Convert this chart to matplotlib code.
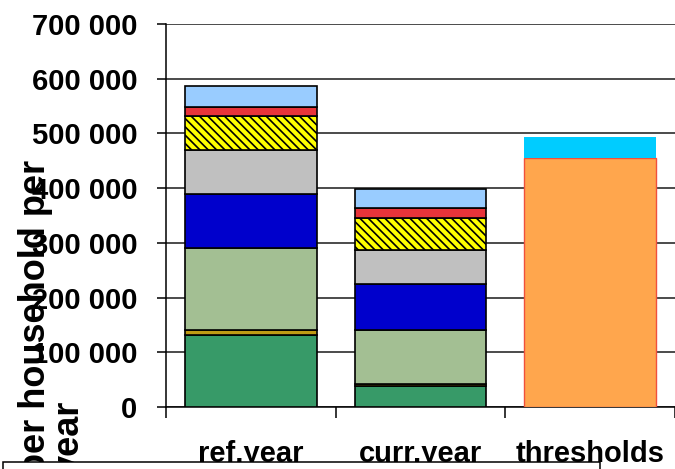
import matplotlib
matplotlib.use("Agg")
import matplotlib.pyplot as plt
from matplotlib.patches import Rectangle
from matplotlib.ticker import FuncFormatter, FixedLocator
import numpy as np

plt.rcParams['font.family'] = ['Liberation Sans', 'DejaVu Sans']
plt.rcParams['hatch.linewidth'] = 1.2

# data
categories = ['ref.year', 'curr.year', 'thresholds']
green = [132000, 38000, 0]
gold = [8000, 4000, 0]
light_green = [150000, 98000, 0]
blue = [99000, 84000, 0]
grey = [81000, 63000, 0]
yellow = [61000, 59000, 0]
red = [18000, 17000, 0]
light_blue = [38000, 36000, 0]
orange = [0, 0, 456000]
cyan = [0, 0, 38000]

stack = [
    (green, '#379A68', None),
    (gold, '#BF9A14', None),
    (light_green, '#A3BF93', None),
    (blue, '#0000CC', None),
    (grey, '#C0C0C0', None),
    (yellow, '#FFFF00', '\\\\\\\\'),
    (red, '#E8343A', None),
    (light_blue, '#99CCFF', None),
]

fig = plt.figure(figsize=(6.75, 4.69), dpi=100)
ax = fig.add_axes([166 / 675, 1 - 407 / 469, 1 - 166 / 675, (407 - 24) / 469])

x = np.arange(len(categories))
w = 0.776
bottom = np.zeros(len(categories))
for vals, col, hatch in stack:
    v = np.array(vals, dtype=float)
    ax.bar(x[:2], v[:2], w, bottom=bottom[:2], color=col, edgecolor='black',
           linewidth=1.2, hatch=hatch, zorder=3)
    bottom += v

ax.bar(x[2], orange[2], w, color='#FFA64D', edgecolor='#F0503C', linewidth=1.0, zorder=3)
ax.bar(x[2], cyan[2], w, bottom=orange[2], color='#00CCFF', linewidth=0, zorder=3)

ax.set_xlim(-0.5, 2.5)
ax.set_ylim(0, 700000)
ax.yaxis.set_major_locator(FixedLocator(np.arange(0, 700001, 100000)))
ax.yaxis.set_major_formatter(FuncFormatter(lambda v, p: f"{int(v):,}".replace(",", " ")))
ax.grid(axis='y', color='#1a1a1a', linewidth=1.1, zorder=0)

ax.set_xticks([-0.5, 0.5, 1.5, 2.5])
ax.set_xticklabels([])
ax.set_xticks(x, minor=True)
ax.set_xticklabels(categories, minor=True, fontsize=21, fontweight='bold')
ax.tick_params(axis='x', which='major', length=8, width=1.1, direction='out')
ax.tick_params(axis='x', which='minor', length=0, pad=24)
ax.tick_params(axis='y', length=6.5, width=1.1, direction='out', pad=14, labelsize=21)
for lab in ax.get_yticklabels():
    lab.set_fontweight('bold')

for s in ['top', 'right']:
    ax.spines[s].set_visible(False)
ax.spines['left'].set_linewidth(1.1)
ax.spines['bottom'].set_linewidth(1.1)

fig.text(18 / 675, -0.012, 'per household per\nyear', rotation=90, fontsize=26,
         fontweight='bold', ha='left', va='bottom', multialignment='left', linespacing=0.95)

# legend box cut off at the bottom
fig.patches.append(Rectangle((3 / 675, -0.1), (600 - 3) / 675, 0.1 + 7 / 469,
                             transform=fig.transFigure, facecolor='white',
                             edgecolor='black', linewidth=1.1, zorder=10))

fig.savefig('out.png', dpi=100)
